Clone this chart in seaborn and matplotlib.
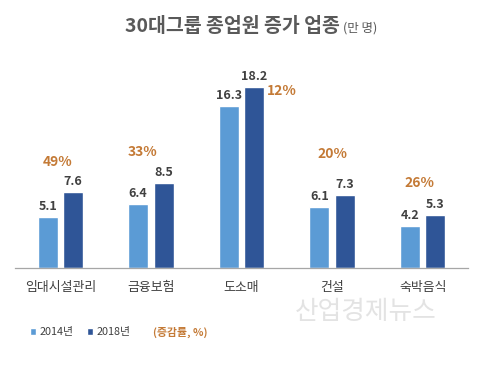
import matplotlib
matplotlib.use("Agg")
import matplotlib.pyplot as plt
import seaborn as sns
import pandas as pd

# =========================
# DATA
# =========================
CATEGORIES = ["임대시설관리", "금융보험", "도소매", "건설", "숙박음식"]
YEARS = ["2014년", "2018년"]
VALUES_2014 = [5.1, 6.4, 16.3, 6.1, 4.2]
VALUES_2018 = [7.6, 8.5, 18.2, 7.3, 5.3]
GROWTH = ["49%", "33%", "12%", "20%", "26%"]

# growth label placement (x offset from category, y offset above tallest bar)
GROWTH_DX = [-0.03, -0.09, 0.45, 0.0, -0.04]
GROWTH_DY = [3.1, 3.2, -0.4, 4.2, 3.2]

LIGHT = "#5B9BD5"
DARK = "#2F5597"
ORANGE = "#C47A36"
TEXT = "#404040"

df = pd.DataFrame({
    "업종": CATEGORIES * 2,
    "연도": [YEARS[0]] * len(CATEGORIES) + [YEARS[1]] * len(CATEGORIES),
    "값": VALUES_2014 + VALUES_2018,
})

sns.set_style("white")
plt.rcParams["font.family"] = ["Noto Sans CJK KR", "DejaVu Sans"]

fig = plt.figure(figsize=(4.8, 3.73), dpi=100)
ax = fig.add_axes([15 / 480, 1 - 268 / 373, (468 - 15) / 480, 199 / 373])

sns.barplot(data=df, x="업종", y="값", hue="연도", palette=[LIGHT, DARK],
            width=0.56, gap=0.21, saturation=1, ax=ax, legend=True)

ax.set_ylim(0, 20)
ax.set_xlim(-0.5, 4.5)
ax.set_xlabel("")
ax.set_ylabel("")
ax.set_yticks([])
sns.despine(ax=ax, left=True)
ax.spines["bottom"].set_color("#A6A6A6")
ax.spines["bottom"].set_linewidth(0.9)
ax.tick_params(axis="x", length=0, pad=9, labelsize=9.3, labelcolor=TEXT)

# value labels
for cont in ax.containers:
    ax.bar_label(cont, fmt="%.1f", padding=3, fontsize=9, fontweight="bold", color=TEXT)

# growth labels
for i, g in enumerate(GROWTH):
    top = max(VALUES_2014[i], VALUES_2018[i])
    ax.text(i + GROWTH_DX[i], top + GROWTH_DY[i], g, ha="center", va="center",
            fontsize=10, fontweight="bold", color=ORANGE)

# legend
handles, labels = ax.get_legend_handles_labels()
ax.legend(handles, labels, loc="center left", bbox_to_anchor=(20 / 480, 1 - 332 / 373),
          bbox_transform=fig.transFigure, ncol=2, frameon=False, fontsize=7.8,
          handlelength=0.6, handleheight=0.6, handletextpad=0.3, columnspacing=1.2,
          labelcolor=TEXT)
fig.text(153 / 480, 1 - 332 / 373, "(증감률, %)", fontsize=7.8, fontweight="bold",
         color=ORANGE, ha="left", va="center")

# title
fig.text(340 / 480, 1 - 27 / 373, "30대그룹 종업원 증가 업종", fontsize=14, fontweight="bold",
         color="#595959", ha="right", va="center")
fig.text(343 / 480, 1 - 28 / 373, "(만 명)", fontsize=9, color="#595959",
         ha="left", va="center")

# watermark
fig.text(366 / 480, 1 - 312 / 373, "산업경제뉴스", fontsize=18.5, color="#E3E3E3",
         ha="center", va="center")

fig.savefig("out.png", dpi=100)
plt.close(fig)
